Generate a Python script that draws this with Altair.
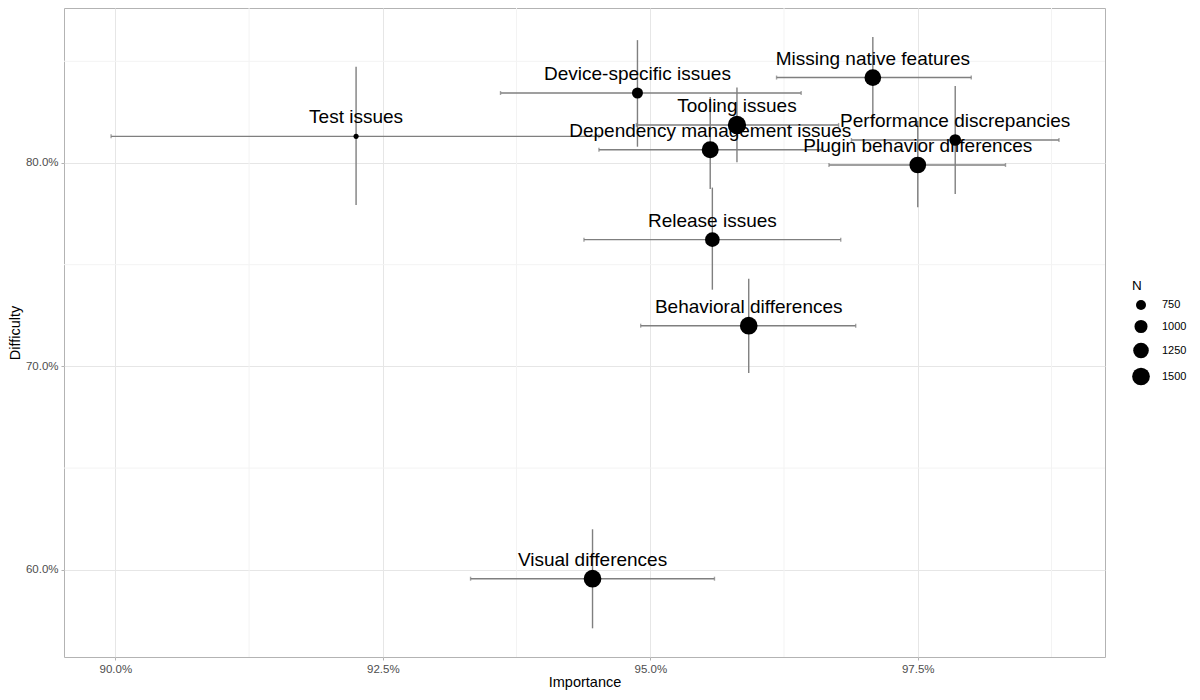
import altair as alt
import pandas as pd

# ---- data (percent values) ----
issues = [
    "Test issues", "Device-specific issues", "Missing native features",
    "Tooling issues", "Dependency management issues", "Performance discrepancies",
    "Plugin behavior differences", "Release issues", "Behavioral differences",
    "Visual differences",
]
importance = [92.25, 94.88, 97.08, 95.81, 95.56, 97.85, 97.50, 95.58, 95.92, 94.46]
importance_lo = [89.96, 93.60, 96.18, 94.87, 94.52, 96.88, 96.67, 94.38, 94.91, 93.32]
importance_hi = [94.52, 96.41, 98.00, 96.76, 96.60, 98.82, 98.32, 96.78, 96.92, 95.60]
difficulty = [81.31, 83.44, 84.20, 81.87, 80.65, 81.13, 79.90, 76.23, 72.00, 59.56]
difficulty_lo = [77.94, 80.80, 81.83, 80.03, 78.72, 78.48, 77.82, 73.77, 69.67, 57.12]
difficulty_hi = [84.73, 86.04, 86.20, 83.71, 83.25, 83.79, 82.07, 78.79, 74.31, 61.99]
n_resp = [490, 824, 1380, 1577, 1415, 880, 1380, 1158, 1500, 1500]

x_ticks = [90.0, 92.5, 95.0, 97.5]
y_ticks = [60.0, 70.0, 80.0]
x_minor = [91.25, 93.75, 96.25, 98.75]
y_minor = [65.0, 75.0, 85.0]
legend_values = [750, 1000, 1250, 1500]

df = pd.DataFrame({
    "issue": issues,
    "imp": importance, "imp_lo": importance_lo, "imp_hi": importance_hi,
    "dif": difficulty, "dif_lo": difficulty_lo, "dif_hi": difficulty_hi,
    "N": n_resp,
})

FONT = "Liberation Sans"
BAR = "#7f7f7f"

xscale = alt.Scale(domain=[89.52, 99.25], nice=False, zero=False)
yscale = alt.Scale(domain=[55.71, 87.62], nice=False, zero=False)

xaxis = alt.Axis(
    title="Importance", values=x_ticks,
    labelExpr="format(datum.value, '.1f') + '%'",
    grid=True, gridColor="#e6e6e6", gridWidth=1,
    domain=False, ticks=True, tickColor="#b3b3b3", tickSize=3, tickWidth=1,
    labelFont=FONT, labelFontSize=11.5, labelColor="#4d4d4d", labelPadding=3,
    titleFont=FONT, titleFontSize=14.5, titleFontWeight="normal",
    titleColor="black", titlePadding=1,
)
yaxis = alt.Axis(
    title="Difficulty", values=y_ticks,
    labelExpr="format(datum.value, '.1f') + '%'",
    grid=True, gridColor="#e6e6e6", gridWidth=1,
    domain=False, ticks=True, tickColor="#b3b3b3", tickSize=3, tickWidth=1,
    labelFont=FONT, labelFontSize=11.5, labelColor="#4d4d4d", labelPadding=3,
    titleFont=FONT, titleFontSize=14.5, titleFontWeight="normal",
    titleColor="black", titlePadding=3,
)

minor_x = alt.Chart(pd.DataFrame({"v": x_minor})).mark_rule(
    color="#f3f3f3", strokeWidth=1
).encode(x=alt.X("v:Q", scale=xscale, axis=xaxis))

minor_y = alt.Chart(pd.DataFrame({"v": y_minor})).mark_rule(
    color="#f3f3f3", strokeWidth=1
).encode(y=alt.Y("v:Q", scale=yscale, axis=yaxis))

base = alt.Chart(df)

hbar = base.mark_rule(color=BAR, strokeWidth=1.4).encode(
    x=alt.X("imp_lo:Q", scale=xscale, axis=xaxis),
    x2="imp_hi:Q",
    y=alt.Y("dif:Q", scale=yscale, axis=yaxis),
)
vbar = base.mark_rule(color=BAR, strokeWidth=1.4).encode(
    x=alt.X("imp:Q", scale=xscale, axis=xaxis),
    y=alt.Y("dif_lo:Q", scale=yscale, axis=yaxis),
    y2="dif_hi:Q",
)
cap_lo = base.mark_tick(color=BAR, orient="vertical", size=4, thickness=1.4).encode(
    x=alt.X("imp_lo:Q", scale=xscale, axis=xaxis),
    y=alt.Y("dif:Q", scale=yscale, axis=yaxis),
)
cap_hi = base.mark_tick(color=BAR, orient="vertical", size=4, thickness=1.4).encode(
    x=alt.X("imp_hi:Q", scale=xscale, axis=xaxis),
    y=alt.Y("dif:Q", scale=yscale, axis=yaxis),
)

points = base.mark_circle(color="black", opacity=1).encode(
    x=alt.X("imp:Q", scale=xscale, axis=xaxis),
    y=alt.Y("dif:Q", scale=yscale, axis=yaxis),
    size=alt.Size(
        "N:Q",
        scale=alt.Scale(domain=[490, 1600], range=[26.2, 341.4], zero=False),
        legend=alt.Legend(
            title="N", values=legend_values, orient="none", format="d",
            legendX=1068, legendY=271,
            titleFont=FONT, titleFontSize=13.5, titleFontWeight="normal",
            titleColor="black", titlePadding=7,
            labelFont=FONT, labelFontSize=11, labelColor="black",
            labelOffset=12, rowPadding=9,
            symbolType="circle", symbolFillColor="black",
            symbolStrokeColor="black", symbolStrokeWidth=0, symbolOpacity=1,
        ),
    ),
)

labels = base.mark_text(
    font=FONT, fontSize=19, color="black", baseline="alphabetic", dy=-13
).encode(
    x=alt.X("imp:Q", scale=xscale, axis=xaxis),
    y=alt.Y("dif:Q", scale=yscale, axis=yaxis),
    text="issue:N",
)

chart = alt.layer(
    minor_x, minor_y, hbar, vbar, cap_lo, cap_hi, points, labels
).properties(
    width=1041, height=649,
    autosize=alt.AutoSizeParams(type="none"),
    padding={"left": 56, "top": 0, "right": 86, "bottom": 35},
    background="white",
).configure_view(
    stroke="#b3b3b3", strokeWidth=1
)

chart.save("out.html", embed_options={"renderer": "svg", "actions": False})
